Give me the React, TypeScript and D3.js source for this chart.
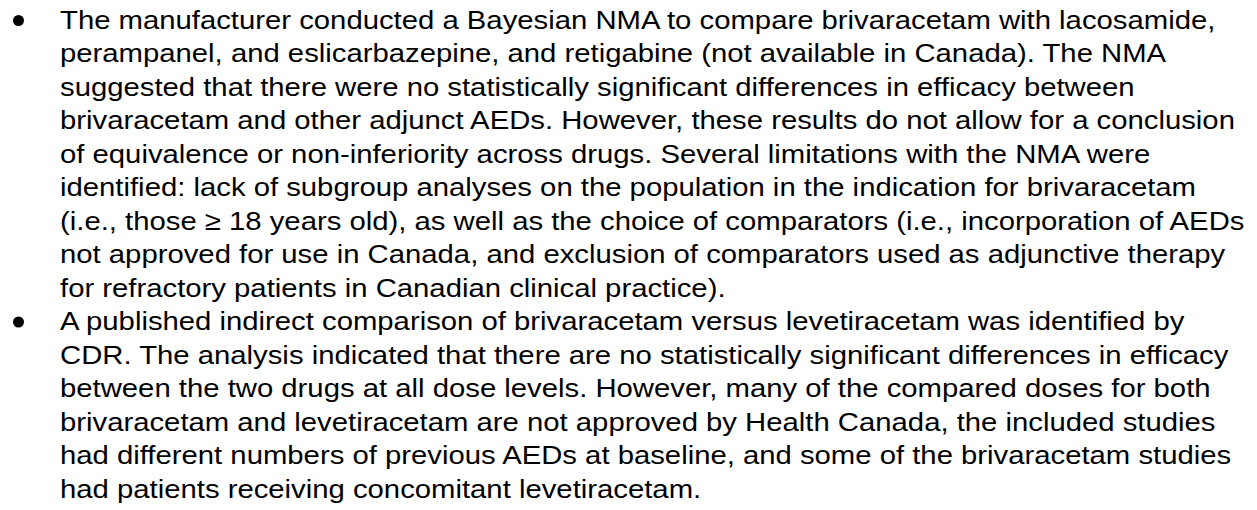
import React, { useRef, useEffect } from 'react';
import * as d3 from 'd3';

const bulletOne = [
  'The manufacturer conducted a Bayesian NMA to compare brivaracetam with lacosamide,',
  'perampanel, and eslicarbazepine, and retigabine (not available in Canada). The NMA',
  'suggested that there were no statistically significant differences in efficacy between',
  'brivaracetam and other adjunct AEDs. However, these results do not allow for a conclusion',
  'of equivalence or non-inferiority across drugs. Several limitations with the NMA were',
  'identified: lack of subgroup analyses on the population in the indication for brivaracetam',
  '(i.e., those \u2265 18 years old), as well as the choice of comparators (i.e., incorporation of AEDs',
  'not approved for use in Canada, and exclusion of comparators used as adjunctive therapy',
  'for refractory patients in Canadian clinical practice).'
];

const bulletTwo = [
  'A published indirect comparison of brivaracetam versus levetiracetam was identified by',
  'CDR. The analysis indicated that there are no statistically significant differences in efficacy',
  'between the two drugs at all dose levels. However, many of the compared doses for both',
  'brivaracetam and levetiracetam are not approved by Health Canada, the included studies',
  'had different numbers of previous AEDs at baseline, and some of the brivaracetam studies',
  'had patients receiving concomitant levetiracetam.'
];

const bullets = [bulletOne, bulletTwo];

const width = 1257;
const height = 510;

const App = () => {
  const svgRef = useRef<SVGSVGElement | null>(null);

  useEffect(() => {
    const svg = d3.select(svgRef.current);
    svg.selectAll('*').remove();

    // flatten lines with their line index, mark the first line of each bullet
    const rows: { text: string; idx: number; first: boolean }[] = [];
    let idx = 0;
    bullets.forEach(lines => {
      lines.forEach((t, i) => {
        rows.push({ text: t, idx, first: i === 0 });
        idx += 1;
      });
    });

    // line index -> baseline
    const y = d3.scaleLinear().domain([0, rows.length - 1]).range([29, 498]);

    svg.append('rect')
      .attr('width', width)
      .attr('height', height)
      .attr('fill', '#ffffff');

    // source text is rendered a bit wider than Arial, stretch horizontally
    svg.append('g')
      .attr('transform', 'translate(60,0) scale(1.098,1)')
      .selectAll('text')
      .data(rows)
      .join('text')
      .attr('x', 0)
      .attr('y', d => y(d.idx))
      .attr('font-family', '"Liberation Sans", Arial, sans-serif')
      .attr('font-size', 26.67)
      .attr('fill', '#000000')
      .text(d => d.text);

    svg.append('g')
      .selectAll('circle')
      .data(rows.filter(d => d.first))
      .join('circle')
      .attr('cx', 18.5)
      .attr('cy', d => y(d.idx) - 8.5)
      .attr('r', 5.5)
      .attr('fill', '#000000');
  }, []);

  return (
    <svg
      ref={svgRef}
      width={width}
      height={height}
      style={{ position: 'absolute', left: 0, top: 0, display: 'block' }}
    />
  );
};

export default App;
